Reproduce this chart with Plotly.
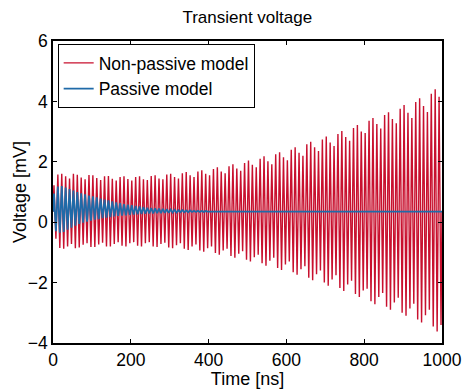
import plotly.graph_objects as go

# ---- data (peak values per oscillation cycle, mV) ----
PERIOD_NS = 10.0          # one oscillation cycle ~10 ns
T_END = 1000.0
START_LEVEL = 0.35        # both signals start / settle near this level
SETTLE_LEVEL = 0.35

red_upper = [
    1.22, 1.58, 1.60, 1.52, 1.45, 1.60, 1.57, 1.48, 1.42, 1.56,
    1.55, 1.46, 1.40, 1.52, 1.53, 1.44, 1.38, 1.50, 1.52, 1.43,
    1.38, 1.50, 1.52, 1.42, 1.40, 1.53, 1.55, 1.45, 1.42, 1.58,
    1.60, 1.50, 1.45, 1.62, 1.66, 1.55, 1.50, 1.68, 1.72, 1.60,
    1.55, 1.76, 1.82, 1.68, 1.62, 1.85, 1.92, 1.78, 1.70, 1.96,
    2.04, 1.90, 1.82, 2.10, 2.18, 2.02, 1.92, 2.25, 2.32, 2.15,
    2.05, 2.40, 2.48, 2.30, 2.20, 2.58, 2.66, 2.48, 2.36, 2.74,
    2.84, 2.64, 2.52, 2.92, 3.02, 2.82, 2.70, 3.12, 3.22, 3.00,
    2.95, 3.36, 3.45, 3.25, 3.10, 3.55, 3.64, 3.42, 3.28, 3.76,
    3.88, 3.62, 3.45, 3.98, 4.10, 3.85, 3.65, 4.25, 4.40, 4.15,
]
red_lower = [
    -0.55, -0.85, -0.88, -0.80, -0.72, -0.86, -0.84, -0.75, -0.70, -0.82,
    -0.82, -0.74, -0.68, -0.80, -0.80, -0.72, -0.66, -0.78, -0.80, -0.70,
    -0.66, -0.78, -0.80, -0.70, -0.66, -0.80, -0.82, -0.72, -0.68, -0.84,
    -0.86, -0.76, -0.70, -0.88, -0.92, -0.80, -0.74, -0.94, -0.98, -0.86,
    -0.80, -1.02, -1.08, -0.94, -0.88, -1.12, -1.18, -1.04, -0.96, -1.24,
    -1.30, -1.16, -1.08, -1.36, -1.44, -1.28, -1.18, -1.52, -1.58, -1.40,
    -1.30, -1.66, -1.74, -1.56, -1.46, -1.84, -1.92, -1.72, -1.60, -2.00,
    -2.10, -1.90, -1.76, -2.18, -2.28, -2.06, -1.94, -2.38, -2.48, -2.26,
    -2.20, -2.62, -2.72, -2.48, -2.34, -2.80, -2.90, -2.66, -2.50, -3.00,
    -3.10, -2.86, -2.70, -3.22, -3.32, -3.08, -2.90, -3.45, -3.62, -3.40,
]
blue_upper = [
    0.95, 1.18, 1.20, 1.15, 1.10, 1.05, 1.00, 0.96, 0.92, 0.88,
    0.86, 0.82, 0.78, 0.75, 0.72, 0.69, 0.66, 0.63, 0.60, 0.58,
    0.56, 0.54, 0.52, 0.50, 0.48, 0.47, 0.46, 0.45, 0.44, 0.43,
    0.42, 0.41, 0.40, 0.40, 0.39, 0.39, 0.38, 0.38, 0.37, 0.37,
]
blue_lower = [
    -0.30, -0.35, -0.32, -0.25, -0.18, -0.12, -0.06, -0.02, 0.02, 0.05,
    0.08, 0.10, 0.13, 0.15, 0.17, 0.19, 0.21, 0.22, 0.23, 0.24,
    0.25, 0.26, 0.27, 0.28, 0.29, 0.29, 0.30, 0.30, 0.31, 0.31,
    0.32, 0.32, 0.33, 0.33, 0.33, 0.34, 0.34, 0.34, 0.34, 0.35,
]

x_ticks = [0, 200, 400, 600, 800, 1000]
y_ticks = [-4, -2, 0, 2, 4, 6]


def zigzag(upper, lower, phase):
    xs, ys = [0.0], [START_LEVEL]
    for i, (u, l) in enumerate(zip(upper, lower)):
        base = i * PERIOD_NS + phase
        xs += [base + PERIOD_NS * 0.25, base + PERIOD_NS * 0.75]
        ys += [u, l]
    if xs[-1] < T_END:
        xs.append(T_END)
        ys.append(SETTLE_LEVEL)
    return xs, ys


rx, ry = zigzag(red_upper, red_lower, 0.0)
bx, by = zigzag(blue_upper, blue_lower, 0.0)

FONT = "Arial, Liberation Sans, sans-serif"

fig = go.Figure()
fig.add_trace(go.Scatter(x=rx, y=ry, mode="lines", name="Non-passive model",
                         line=dict(color="#c8102e", width=1.4)))
fig.add_trace(go.Scatter(x=bx, y=by, mode="lines", name="Passive model",
                         line=dict(color="#1f6aa8", width=1.8)))

fig.update_layout(
    width=464, height=389,
    margin=dict(l=53, r=22, t=41, b=46),
    paper_bgcolor="white", plot_bgcolor="white",
    font=dict(family=FONT, size=18, color="black"),
    title=dict(text="Transient voltage", x=0.533, xanchor="center",
               y=0.955, yanchor="middle", font=dict(size=17)),
    showlegend=True,
    legend=dict(x=0.012, y=0.99, xanchor="left", yanchor="top",
                bgcolor="white", bordercolor="black", borderwidth=1,
                font=dict(size=17.5), tracegroupgap=0),
    annotations=[dict(text="Voltage [mV]", textangle=-90, showarrow=False,
                      xref="paper", yref="paper", x=-33 / 389, y=0.5,
                      xanchor="center", yanchor="middle",
                      font=dict(size=18))],
)
fig.update_xaxes(range=[0, 1000], tickvals=x_ticks, ticks="inside",
                 ticklen=4, tickcolor="black", showline=True, linecolor="black",
                 linewidth=1.5, mirror="ticks", showgrid=False, zeroline=False,
                 automargin=False,
                 title=dict(text="Time [ns]", standoff=0, font=dict(size=18)),
                 tickfont=dict(size=17.5))
fig.update_yaxes(range=[-4, 6], tickvals=y_ticks, ticks="inside",
                 ticklen=4, tickcolor="black", showline=True, linecolor="black",
                 linewidth=1.5, mirror="ticks", showgrid=False, zeroline=False,
                 automargin=False,
                 tickfont=dict(size=17.5))

fig.write_html("out.html")
